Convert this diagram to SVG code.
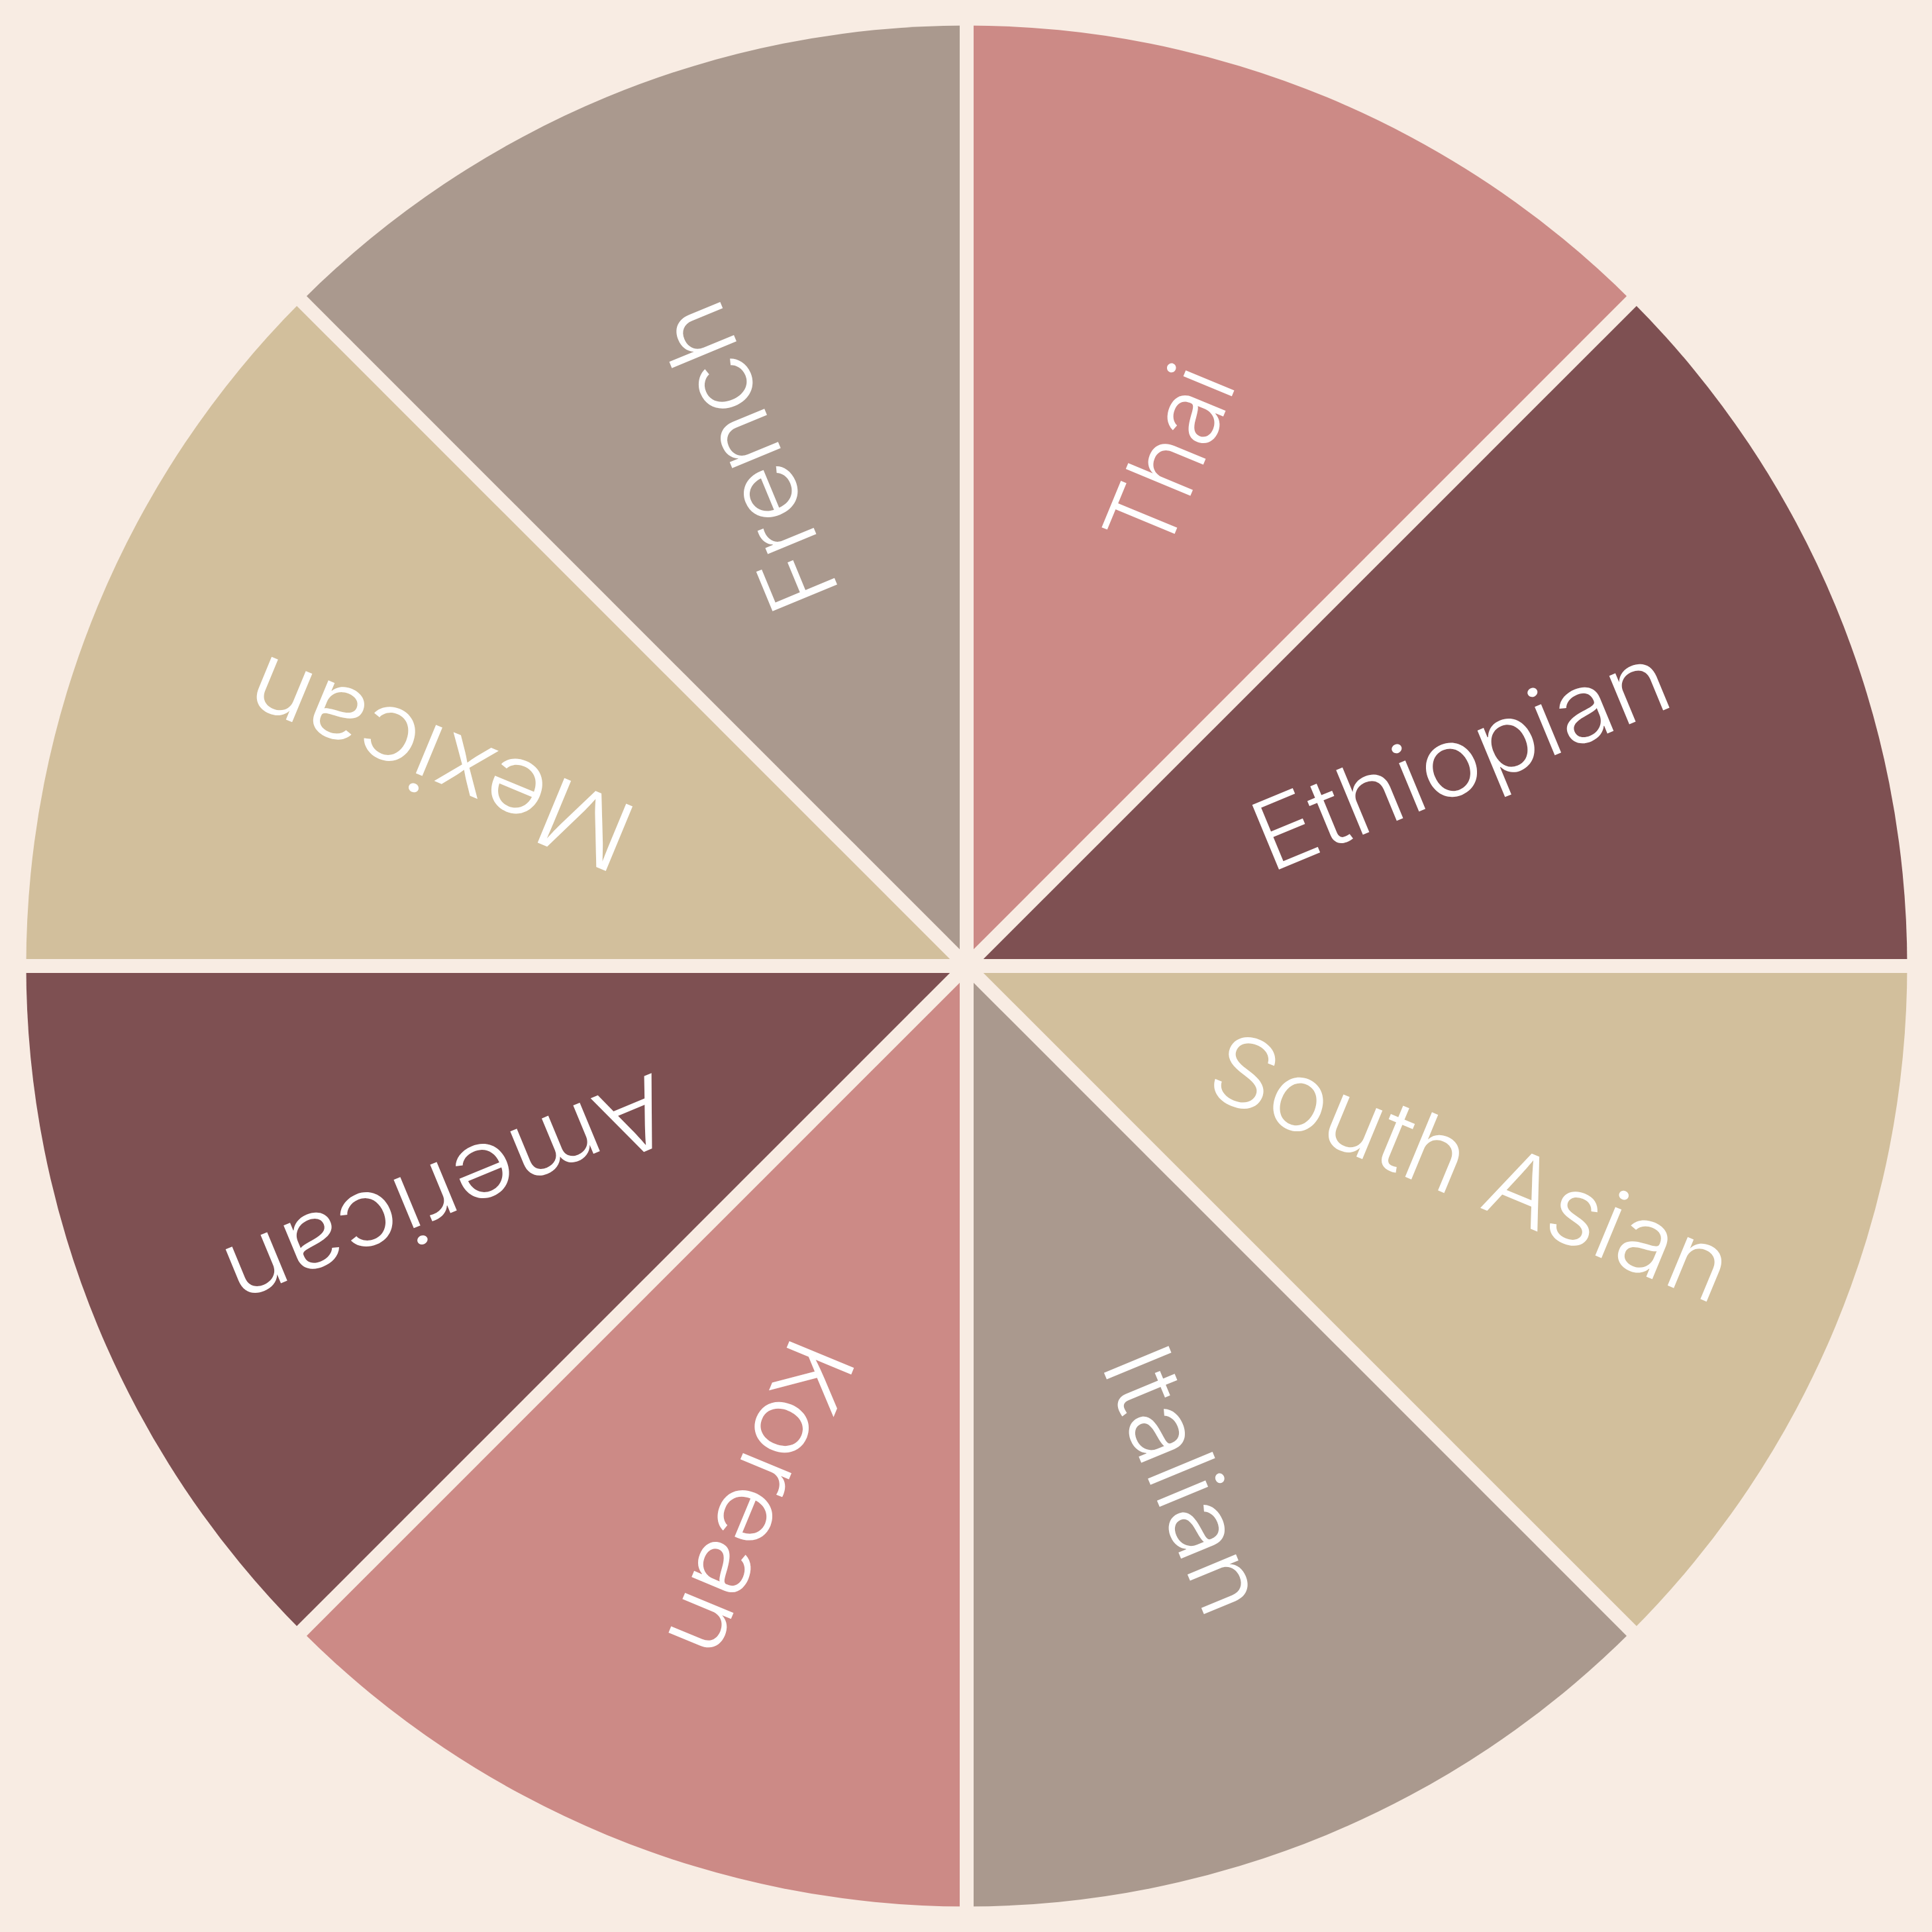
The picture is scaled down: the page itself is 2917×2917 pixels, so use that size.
<svg xmlns="http://www.w3.org/2000/svg" width="2917" height="2917" viewBox="0 0 2917 2917">
<style>
.bg{fill:#F8ECE3}
.pink{fill:#CC8A86}
.dark{fill:#7E5052}
.tan{fill:#D2BF9C}
.grey{fill:#AA998E}
.lbl{font-family:"Inter","Lato","Liberation Sans",sans-serif;font-weight:300;font-size:145px;fill:#FFFFFF}
.sep{stroke:#F8ECE3;stroke-width:21;fill:none}
</style>
<rect class="bg" x="0" y="0" width="2917" height="2917"/>
<g id="thai">
<path class="pink" d="M1459.5,1458.5 L1459.5,38.5 A1420,1420 0 0 1 2463.6,454.4 Z"/>
<text class="lbl" x="-143.5" y="0" textLength="287" lengthAdjust="spacingAndGlyphs" transform="translate(1813,711) rotate(-67.5)">Thai</text>
</g>
<g id="ethiopian">
<path class="dark" d="M1459.5,1458.5 L2463.6,454.4 A1420,1420 0 0 1 2879.5,1458.5 Z"/>
<text class="lbl" x="-333" y="0" textLength="666" lengthAdjust="spacingAndGlyphs" transform="translate(2225,1191) rotate(-22.5)">Ethiopian</text>
</g>
<g id="south-asian">
<path class="tan" d="M1459.5,1458.5 L2879.5,1458.5 A1420,1420 0 0 1 2463.6,2462.6 Z"/>
<text class="lbl" x="-418" y="0" textLength="836" lengthAdjust="spacingAndGlyphs" transform="translate(2202,1810) rotate(22.5)">South Asian</text>
</g>
<g id="italian">
<path class="grey" d="M1459.5,1458.5 L2463.6,2462.6 A1420,1420 0 0 1 1459.5,2878.5 Z"/>
<text class="lbl" x="-211" y="0" textLength="422" lengthAdjust="spacingAndGlyphs" transform="translate(1742,2254) rotate(67.5)">Italian</text>
</g>
<g id="korean">
<path class="pink" d="M1459.5,1458.5 L1459.5,2878.5 A1420,1420 0 0 1 455.4,2462.6 Z"/>
<text class="lbl" x="-252" y="0" textLength="504" lengthAdjust="spacingAndGlyphs" transform="translate(1101,2244) rotate(112.5)">Korean</text>
</g>
<g id="american">
<path class="dark" d="M1459.5,1458.5 L455.4,2462.6 A1420,1420 0 0 1 39.5,1458.5 Z"/>
<text class="lbl" x="-357" y="0" textLength="714" lengthAdjust="spacingAndGlyphs" transform="translate(658,1755) rotate(157.5)">American</text>
</g>
<g id="mexican">
<path class="tan" d="M1459.5,1458.5 L39.5,1458.5 A1420,1420 0 0 1 455.4,454.4 Z"/>
<text class="lbl" x="-309" y="0" textLength="618" lengthAdjust="spacingAndGlyphs" transform="translate(683.5,1105) rotate(202.5)">Mexican</text>
</g>
<g id="french">
<path class="grey" d="M1459.5,1458.5 L455.4,454.4 A1420,1420 0 0 1 1459.5,38.5 Z"/>
<text class="lbl" x="-244.5" y="0" textLength="489" lengthAdjust="spacingAndGlyphs" transform="translate(1176,670) rotate(247.5)">French</text>
</g>
<g id="connectors">
<line class="sep" x1="1459.5" y1="20" x2="1459.5" y2="2897"/>
<line class="sep" x1="20" y1="1458.5" x2="2897" y2="1458.5"/>
<line class="sep" x1="430" y1="429" x2="2489" y2="2488"/>
<line class="sep" x1="2489" y1="429" x2="430" y2="2488"/>
</g>
</svg>
